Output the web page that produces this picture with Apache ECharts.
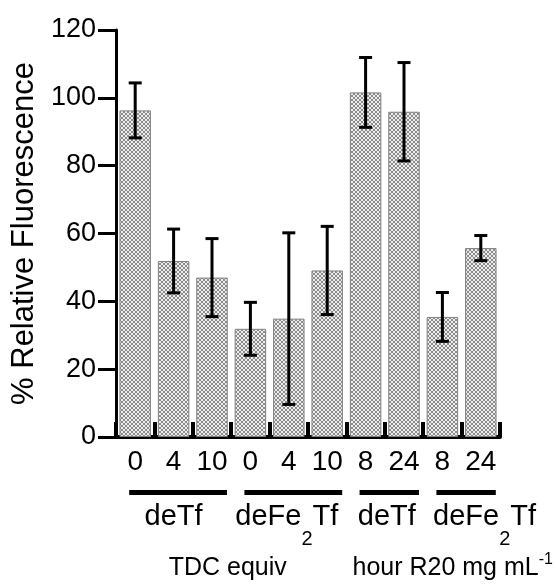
<!DOCTYPE html>
<html><head><meta charset="utf-8">
<script src="https://cdn.jsdelivr.net/npm/echarts@6/dist/echarts.min.js"></script>
<style>html,body{margin:0;padding:0;background:#fff}#c{width:556px;height:584px}</style>
</head><body><div id="c"></div>
<script>
// ---------- data ----------
const categories = ['0', '4', '10', '0', '4', '10', '8', '24', '8', '24'];
const means = [96.3, 51.9, 47.0, 31.9, 34.9, 49.1, 101.6, 95.9, 35.4, 55.7];
const errors = [8.1, 9.4, 11.5, 7.8, 25.3, 13.0, 10.3, 14.5, 7.2, 3.7];
const yMin = 0, yMax = 120, yStep = 20;
const yName = '% Relative Fluorescence';
// group names: [main, subscript, main]
const groupNames = [['deTf'], ['deFe', '2', 'Tf'], ['deTf'], ['deFe', '2', 'Tf']];
const groupFirst = [0, 3, 6, 8];
const groupLast = [2, 5, 7, 9];
// unit notes: [main, superscript]
const unitNotes = [['TDC equiv'], ['hour R20 mg mL', '-1']];
const noteFirst = [0, 6];
const noteLast = [5, 9];

// ---------- layout / style ----------
const FAMILY = 'Liberation Sans';
const groupLabelShift = [0, -2, 2, 23];
const noteShift = [-3.5, 29.5];

// crosshatch fill tile
const pc = document.createElement('canvas');
pc.width = 4; pc.height = 4;
const p = pc.getContext('2d');
p.fillStyle = '#ededed'; p.fillRect(0, 0, 4, 4);
p.fillStyle = '#8c8c8c';
for (let k = 0; k < 4; k++) { p.fillRect(k, k, 1, 1); p.fillRect(3 - k, k, 1, 1); }

const mc = document.createElement('canvas').getContext('2d');
function tw(text, size) { mc.font = size + 'px "' + FAMILY + '"'; return mc.measureText(text).width; }

const chart = echarts.init(document.getElementById('c'), null, {renderer: 'canvas'});
chart.setOption({
  animation: false,
  backgroundColor: '#fff',
  grid: {left: 116, right: 56, top: 30, bottom: 147},
  xAxis: {
    type: 'category', data: categories,
    axisLine: {lineStyle: {color: '#000', width: 4}},
    axisTick: {show: true, inside: true, length: 15, interval: 0, lineStyle: {color: '#000', width: 4}},
    axisLabel: {color: '#000', fontSize: 28, fontFamily: FAMILY, margin: 11, interval: 0},
    splitLine: {show: false}
  },
  yAxis: {
    type: 'value', min: yMin, max: yMax, interval: yStep,
    name: yName, nameLocation: 'middle', nameGap: 73,
    nameTextStyle: {color: '#000', fontSize: 31, fontFamily: FAMILY},
    axisLine: {show: true, lineStyle: {color: '#000', width: 3}},
    axisTick: {show: true, length: 18, lineStyle: {color: '#000', width: 3}},
    axisLabel: {color: '#000', fontSize: 27, fontFamily: FAMILY, margin: 20},
    splitLine: {show: false}
  },
  series: [
    {
      type: 'bar', data: means, barCategoryGap: '18%',
      itemStyle: {color: {image: pc, repeat: 'repeat'}, borderColor: '#808080', borderWidth: 1},
      z: 2
    },
    {
      type: 'custom', z: 5,
      data: means.map((m, i) => [i, m, errors[i]]),
      encode: {x: 0, y: 1},
      renderItem: function (params, api) {
        const i = api.value(0), m = api.value(1), e = api.value(2);
        const top = api.coord([i, m + e]);
        const bot = api.coord([i, m - e]);
        const hw = 6.5;
        const st = {stroke: '#000', lineWidth: 3};
        return {type: 'group', children: [
          {type: 'line', shape: {x1: top[0], y1: top[1], x2: bot[0], y2: bot[1]}, style: st},
          {type: 'line', shape: {x1: top[0] - hw, y1: top[1], x2: top[0] + hw, y2: top[1]}, style: st},
          {type: 'line', shape: {x1: bot[0] - hw, y1: bot[1], x2: bot[0] + hw, y2: bot[1]}, style: st}
        ]};
      }
    }
  ]
});

// ---------- annotations below the axis, placed from the axis scale ----------
function cat(i) { return chart.convertToPixel({gridIndex: 0}, [i, 0]); }
const axisY = cat(0)[1];
const els = [];
function textEl(t, x, baseline, size) {
  return {type: 'text', x: x, y: baseline - 0.3465 * size,
    style: {text: t, fill: '#000', fontSize: size, fontFamily: FAMILY, align: 'left', verticalAlign: 'middle'}};
}
function partsLine(parts, cx, baseline, size, smallSize, smallShift) {
  const widths = parts.map((t, k) => tw(t, k === 1 ? smallSize : size));
  const total = widths.reduce((a, b) => a + b, 0);
  let x = cx - total / 2;
  parts.forEach((t, k) => {
    if (k === 1) els.push(textEl(t, x, baseline + smallShift, smallSize));
    else els.push(textEl(t, x, baseline, size));
    x += widths[k];
  });
}
groupNames.forEach((parts, g) => {
  const a = cat(groupFirst[g])[0], b = cat(groupLast[g])[0];
  els.push({type: 'line', shape: {x1: a - 6, y1: axisY + 55.5, x2: b + 15, y2: axisY + 55.5},
    style: {stroke: '#000', lineWidth: 5}});
  partsLine(parts, (a + b) / 2 + groupLabelShift[g], axisY + 90, 29, 20, 19);
});
unitNotes.forEach((parts, n) => {
  const a = cat(noteFirst[n])[0], b = cat(noteLast[n])[0];
  partsLine(parts, (a + b) / 2 + noteShift[n], axisY + 140, 25, 16, -12);
});
chart.setOption({graphic: els});
</script></body></html>
